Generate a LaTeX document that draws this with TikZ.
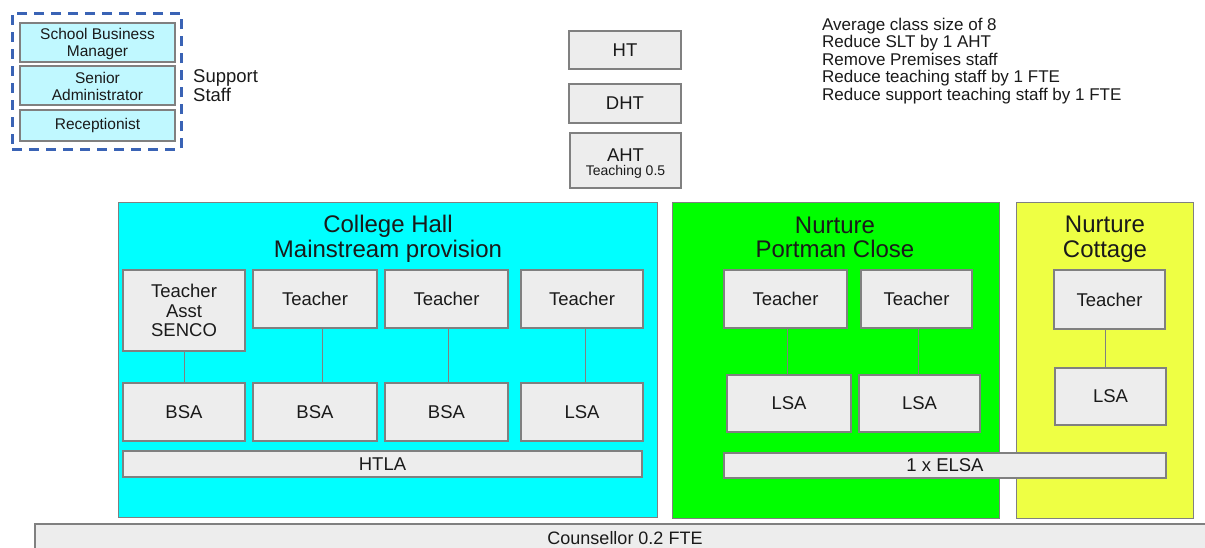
\documentclass[tikz,border=0pt]{standalone}
\usepackage{fontspec}
\setmainfont{Liberation Sans}
\definecolor{boxfill}{HTML}{EDEDED}
\definecolor{boxline}{HTML}{808080}
\definecolor{panelcyan}{HTML}{00FFFF}
\definecolor{panelgreen}{HTML}{00FF00}
\definecolor{panelyellow}{HTML}{EEFF44}
\definecolor{suppfill}{HTML}{C0F8FF}
\definecolor{dashblue}{HTML}{3A63B5}
\definecolor{txt}{HTML}{1A1A1A}
\tikzset{
  box/.style={draw=boxline, fill=boxfill, line width=1.2pt, inner sep=0pt, text=txt,
    align=center, font=\fontsize{18.5}{19.5}\selectfont},
  suppbox/.style={box, fill=suppfill, font=\fontsize{15.5}{17}\selectfont},
  panel/.style={draw=boxline, line width=1pt, inner sep=0pt},
  paneltitle/.style={text=txt, align=center, font=\fontsize{24}{24.5}\selectfont},
  link/.style={draw=boxline, line width=1pt},
  dashframe/.style={draw=dashblue, line width=3pt, dash pattern=on 10pt off 7pt, inner sep=0pt},
  note/.style={text=txt, align=left, inner sep=0pt, font=\fontsize{17}{17.5}\selectfont},
}
\begin{document}
\begin{tikzpicture}[x=1pt,y=-1pt]
\clip (0,0) rectangle (1205,547);
\fill[white] (0,0) rectangle (1205,547);

% support staff
\node[dashframe, minimum width=169pt, minimum height=136pt] (supp) at (96.5,81) {};
\node[suppbox, minimum width=155pt, minimum height=39pt] (sbm) at (97.5,42.5) {\rule{0pt}{14pt}School Business\\Manager};
\node[suppbox, minimum width=155pt, minimum height=39pt] (sad) at (97.5,85.5) {\rule{0pt}{14pt}Senior\\Administrator};
\node[suppbox, minimum width=155pt, minimum height=31pt] (rec) at (97.5,125.5) {Receptionist};
\node[note, anchor=west, font=\fontsize{18.5}{19}\selectfont] (supplabel) at (193,85.5) {Support\\Staff};

% leadership
\node[box, minimum width=112pt, minimum height=38pt] (ht) at (625,50) {HT};
\node[box, minimum width=112pt, minimum height=39pt] (dht) at (625,103.5) {DHT};
\node[box, minimum width=111pt, minimum height=55pt] (aht) at (625.5,160.5)
  {\rule{0pt}{18.5pt}AHT\\[-5pt]{\fontsize{14}{14}\selectfont Teaching 0.5}};

% notes
\node[note, anchor=north west] (notes) at (822,17.5) {Average class size of 8\\Reduce SLT by 1 AHT\\Remove Premises staff\\Reduce teaching staff by 1 FTE\\Reduce support teaching staff by 1 FTE};

% panels
\node[panel, fill=panelcyan, minimum width=539pt, minimum height=315pt] (college) at (387.5,359.5) {};
\node[panel, fill=panelgreen, minimum width=327pt, minimum height=316pt] (portman) at (835.5,360) {};
\node[panel, fill=panelyellow, minimum width=177pt, minimum height=316pt] (cottage) at (1104.5,360) {};
\node[paneltitle] (collegetitle) at (388,239) {College Hall\\Mainstream provision};
\node[paneltitle] (portmantitle) at (835,237.5) {Nurture\\Portman Close};
\node[paneltitle] (cottagetitle) at (1105,239) {Nurture\\Cottage};

% college hall
\node[box, minimum width=122pt, minimum height=81pt] (ta) at (184,310.5) {Teacher\\Asst\\SENCO};
\node[box, minimum width=124pt, minimum height=58pt] (t2) at (315,299) {Teacher};
\node[box, minimum width=123pt, minimum height=58pt] (t3) at (446.5,299) {Teacher};
\node[box, minimum width=122pt, minimum height=58pt] (t4) at (582,299) {Teacher};
\node[box, minimum width=122pt, minimum height=58pt] (b1) at (184,412) {BSA};
\node[box, minimum width=124pt, minimum height=58pt] (b2) at (315,412) {BSA};
\node[box, minimum width=123pt, minimum height=58pt] (b3) at (446.5,412) {BSA};
\node[box, minimum width=122pt, minimum height=58pt] (l4) at (582,412) {LSA};
\node[box, minimum width=519pt, minimum height=26pt] (htla) at (382.5,464) {HTLA};
\draw[link] (ta.south) -- (b1.north);
\draw[link] ([xshift=7pt]t2.south) -- ([xshift=7pt]b2.north);
\draw[link] ([xshift=1.5pt]t3.south) -- ([xshift=1.5pt]b3.north);
\draw[link] ([xshift=3pt]t4.south) -- ([xshift=3pt]l4.north);

% portman close
\node[box, minimum width=123pt, minimum height=58pt] (pt1) at (785.5,299) {Teacher};
\node[box, minimum width=111pt, minimum height=58pt] (pt2) at (916.5,299) {Teacher};
\node[box, minimum width=124pt, minimum height=57pt] (pl1) at (789,403.5) {LSA};
\node[box, minimum width=121pt, minimum height=57pt] (pl2) at (919.5,403.5) {LSA};
\draw[link] ([xshift=1.5pt]pt1.south) -- ([xshift=1.5pt]pt1.south |- pl1.north);
\draw[link] ([xshift=1.5pt]pt2.south) -- ([xshift=1.5pt]pt2.south |- pl2.north);

% cottage
\node[box, minimum width=111pt, minimum height=59pt] (ct) at (1109.5,299.5) {Teacher};
\node[box, minimum width=111pt, minimum height=57pt] (cl) at (1110.5,396.5) {LSA};
\draw[link] ([xshift=-4pt]ct.south) -- ([xshift=-4pt]ct.south |- cl.north);

\node[box, minimum width=442pt, minimum height=25pt] (elsa) at (945,465.5) {1 x ELSA};

% counsellor
\node[box, minimum width=1180pt, minimum height=32pt] (couns) at (625,540) {};
\node[text=txt, font=\fontsize{18}{19}\selectfont, inner sep=0pt] (counslabel) at (625,538) {Counsellor 0.2 FTE};
\end{tikzpicture}
\end{document}
